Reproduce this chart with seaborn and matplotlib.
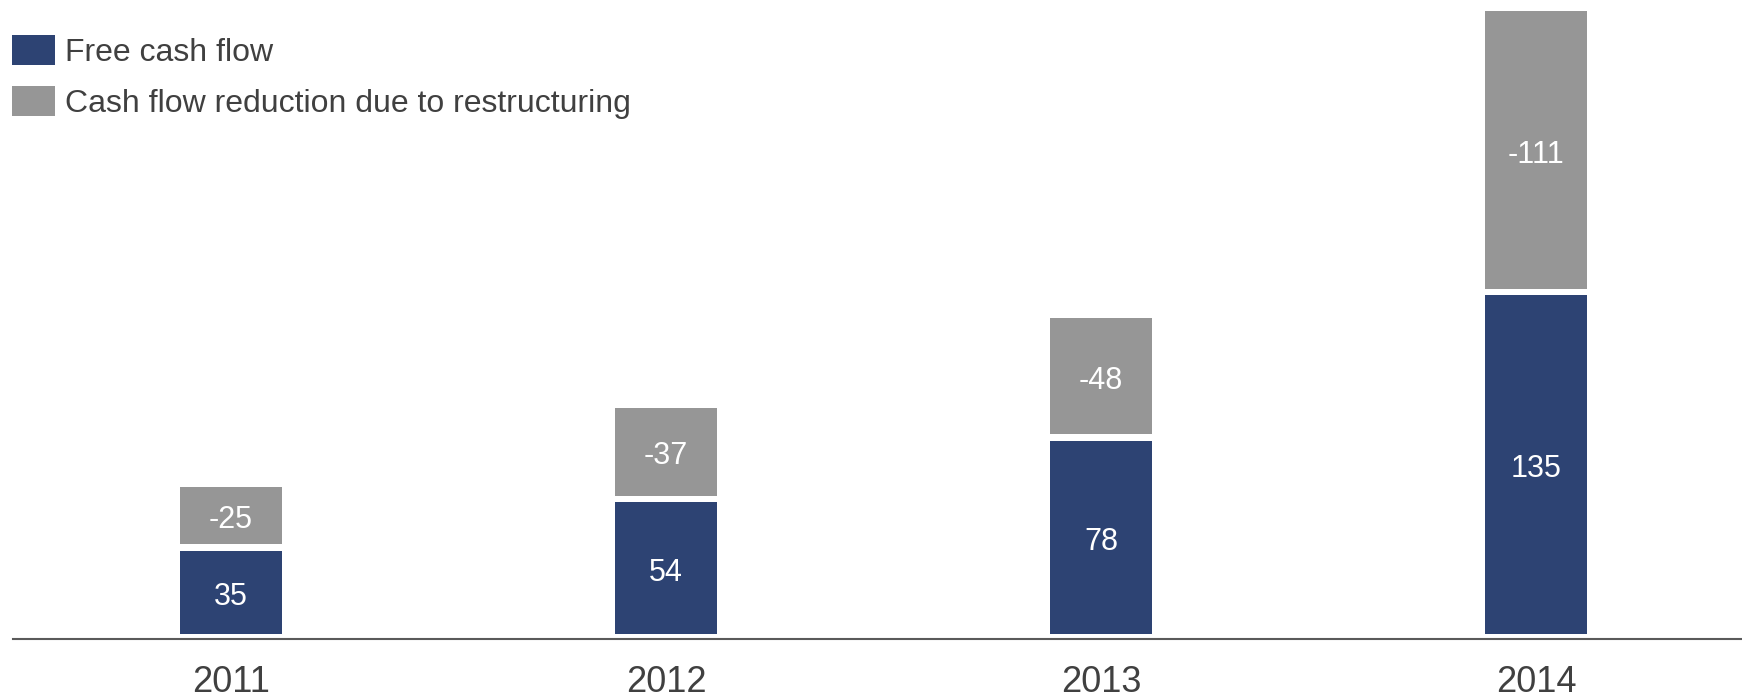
import matplotlib
matplotlib.use("Agg")
import matplotlib.pyplot as plt
import seaborn as sns
import pandas as pd
from matplotlib.patches import Patch

years = ["2011", "2012", "2013", "2014"]
free_cash_flow = [35, 54, 78, 135]
restructuring = [-25, -37, -48, -111]
series_names = ["Free cash flow", "Cash flow reduction due to restructuring"]

BLUE = "#2D4373"
GRAY = "#969696"
TEXT = "#404040"
GAP = 2.5  # white inset at the bottom of each segment (data units)
LABEL_DROP = 1.8  # optical offset of value labels (data units)

sns.set_theme(style="white")
plt.rcParams["font.family"] = ["Liberation Sans", "DejaVu Sans"]

W, H = 1742, 698
fig = plt.figure(figsize=(W / 100, H / 100), dpi=100)
ax_bottom_px = H - 638.5
ax = fig.add_axes([13 / W, ax_bottom_px / H, 1 - 13 / W, 1 - ax_bottom_px / H])

df = pd.DataFrame({"year": years, "fcf": free_cash_flow,
                   "restr": [abs(v) for v in restructuring]})
df["fcf_vis"] = df["fcf"] - GAP
df["restr_vis"] = df["restr"] - GAP
df["restr_bottom"] = df["fcf"] + GAP

sns.barplot(data=df, x="year", y="fcf_vis", color=BLUE, width=0.234,
            saturation=1, ax=ax, linewidth=0, bottom=GAP)
sns.barplot(data=df, x="year", y="restr_vis", color=GRAY, width=0.234,
            saturation=1, ax=ax, linewidth=0,
            bottom=df["restr_bottom"].values)

for i, (f, r) in enumerate(zip(free_cash_flow, restructuring)):
    ax.text(i, (GAP + f) / 2 - LABEL_DROP, f"{f}", ha="center", va="center",
            color="white", fontsize=22)
    ax.text(i, (f + GAP + f + abs(r)) / 2 - LABEL_DROP, f"{r}", ha="center",
            va="center", color="white", fontsize=22)

ax.set_xlim(-(231 - 13) / 435, 3 + (1742 - 1536) / 435)
ax.set_ylim(0.7, 250.4)
ax.set_xlabel("")
ax.set_ylabel("")
ax.set_yticks([])
for s in ["top", "right", "left"]:
    ax.spines[s].set_visible(False)
ax.spines["bottom"].set_color("#5A5A5A")
ax.spines["bottom"].set_linewidth(1.5)
ax.tick_params(axis="x", length=0, pad=19, labelsize=26, labelcolor=TEXT)

handles = [Patch(facecolor=BLUE, edgecolor="none"),
           Patch(facecolor=GRAY, edgecolor="none")]
fig.legend(handles, series_names, loc="upper left",
           bbox_to_anchor=(11.7 / W, 1 - 35 / H), frameon=False,
           fontsize=23, handlelength=1.35, handleheight=1.05,
           handletextpad=0.32, labelspacing=0.58, borderaxespad=0,
           borderpad=0, labelcolor=TEXT)

fig.savefig("out.png", dpi=100)
